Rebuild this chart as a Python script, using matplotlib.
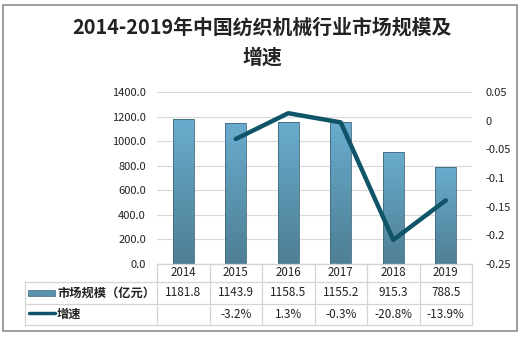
import numpy as np
import matplotlib
matplotlib.use("Agg")
import matplotlib.pyplot as plt
from matplotlib.transforms import Affine2D, blended_transform_factory
from matplotlib.colors import LinearSegmentedColormap
from matplotlib.patches import Rectangle

plt.rcParams['font.family'] = ['Noto Sans CJK SC', 'DejaVu Sans']

# 数据
years = ['2014', '2015', '2016', '2017', '2018', '2019']
market_size = [1181.8, 1143.9, 1158.5, 1155.2, 915.3, 788.5]
growth = [None, -0.032, 0.013, -0.003, -0.208, -0.139]
growth_labels = ['', '-3.2%', '1.3%', '-0.3%', '-20.8%', '-13.9%']
left_ticks = [0, 200, 400, 600, 800, 1000, 1200, 1400]
right_ticks = [0.05, 0, -0.05, -0.1, -0.15, -0.2, -0.25]

W, H = 527, 337
fig = plt.figure(figsize=(W / 100, H / 100), dpi=100)
pix = Affine2D().scale(1 / W, -1 / H).translate(0, 1) + fig.transFigure

# 外框
fig.patches.append(Rectangle((3, 5), 514, 326, transform=pix, fill=False,
                             edgecolor='#8c8c8c', linewidth=1.2))

fig.text(262, 27, '2014-2019年中国纺织机械行业市场规模及', transform=pix,
         ha='center', va='center', fontsize=14.3, fontweight='bold', color='#222222')
fig.text(262, 57, '增速', transform=pix,
         ha='center', va='center', fontsize=14.3, fontweight='bold', color='#222222')

x0, x1, ytop, ybot = 157, 472, 92, 264
ax = fig.add_axes([x0 / W, (H - ybot) / H, (x1 - x0) / W, (ybot - ytop) / H])
x = np.arange(len(years))
ax.set_yticks(left_ticks)
ax.set_yticklabels([f'{v:.1f}' for v in left_ticks])
ax.tick_params(axis='y', length=0, labelsize=8, labelcolor='#222222', pad=8)
ax.set_xticks([])
for s in ['top', 'right', 'left']:
    ax.spines[s].set_visible(False)
ax.spines['bottom'].set_color('#d0d0d0')
ax.grid(axis='y', color='#d9d9d9', linewidth=0.8)
ax.set_axisbelow(True)

# 柱状图（渐变填充）
cmap = LinearSegmentedColormap.from_list('barfill', ['#4e7f95', '#5b95b0', '#6aacce'])
grad = np.linspace(0, 1, 256).reshape(-1, 1)
bars = ax.bar(x, market_size, width=0.4, color='none', edgecolor='#3f6a7d',
              linewidth=0.6, zorder=3)
for b in bars:
    bx, bw, bh = b.get_x(), b.get_width(), b.get_height()
    im = ax.imshow(grad, cmap=cmap, aspect='auto', origin='lower',
                   extent=[bx, bx + bw, 0, bh], zorder=2)
    im.set_clip_path(b)
ax.set_xlim(-0.5, len(years) - 0.5)
ax.set_ylim(0, 1400)

# 增速折线
ax2 = ax.twinx()
ax2.set_ylim(-0.25, 0.05)
ax2.set_yticks(right_ticks)
ax2.set_yticklabels(['0.05', '0', '-0.05', '-0.1', '-0.15', '-0.2', '-0.25'])
ax2.tick_params(axis='y', length=0, labelsize=8, labelcolor='#222222', pad=10)
for s in ['top', 'right', 'left', 'bottom']:
    ax2.spines[s].set_visible(False)
gx = [i for i, g in enumerate(growth) if g is not None]
gy = [g for g in growth if g is not None]
line_color = '#0f5468'
ax2.plot(gx, gy, color=line_color, linewidth=3.2, solid_capstyle='round',
         solid_joinstyle='round', zorder=4)

# 数据表
tr = blended_transform_factory(ax.transData, pix)
grid_c = '#d4d4d4'
row_y = [264, 282, 304, 325]
left_edge = 25
for y in row_y:
    xs = x0 if y == 264 else left_edge
    fig.lines.append(plt.Line2D([xs, x1], [y, y], transform=pix, color=grid_c, lw=0.9))
fig.lines.append(plt.Line2D([left_edge, left_edge], [282, 325], transform=pix, color=grid_c, lw=0.9))
for i in range(len(years) + 1):
    fig.lines.append(plt.Line2D([i - 0.5, i - 0.5], [264, 325], transform=tr,
                                color=grid_c, lw=0.9))

for i in range(len(years)):
    fig.text(i, 273, years[i], transform=tr, ha='center', va='center',
             fontsize=8.3, color='#222222')
    fig.text(i, 293, f'{market_size[i]:.1f}', transform=tr, ha='center', va='center',
             fontsize=8.5, color='#222222')
    fig.text(i, 314.5, growth_labels[i], transform=tr, ha='center', va='center',
             fontsize=8.5, color='#222222')

# 图例标记
fig.patches.append(Rectangle((28, 289.5), 27, 6, transform=pix,
                             facecolor='#5a93ae', edgecolor='#3f6a7d', lw=0.5))
fig.lines.append(plt.Line2D([29, 55], [313, 313], transform=pix, color=line_color,
                            lw=2.5, solid_capstyle='round'))
fig.text(57, 293, '市场规模（亿元）', transform=pix, ha='left', va='center',
         fontsize=8.8, fontweight='bold', color='#222222')
fig.text(57, 314.5, '增速', transform=pix, ha='left', va='center',
         fontsize=8.8, fontweight='bold', color='#222222')

fig.savefig('out.png', dpi=100)
